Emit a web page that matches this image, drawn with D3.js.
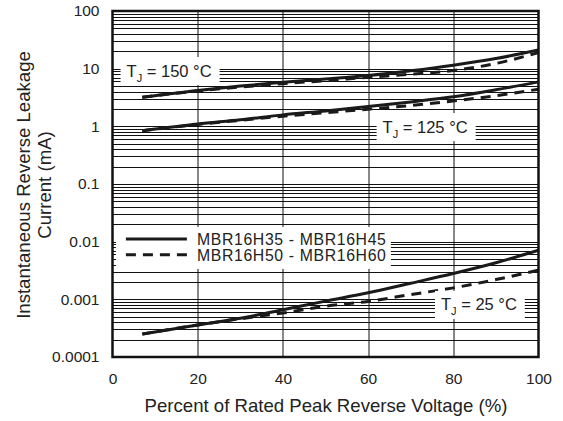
<!DOCTYPE html>
<html>
<head>
<meta charset="utf-8">
<script src="https://cdn.jsdelivr.net/npm/d3@7"></script>
<style>
  body { margin: 0; background: #fff; }
  svg { display: block; }
  text { font-family: "Liberation Sans", Arial, Helvetica, sans-serif; fill: #222; }
</style>
</head>
<body>
<svg width="563" height="421"></svg>
<script>
// percent of rated peak reverse voltage
var pct = [7, 20, 30, 40, 50, 60, 70, 80, 90, 100];

// leakage current (mA)
var tj150Solid  = [3.2, 4.2, 5.0, 5.8, 6.6, 7.6, 9.2, 11.5, 15.0, 21.0];
var tj150Dashed = [3.2, 4.1, 4.8, 5.5, 6.2, 7.1, 8.0, 9.3, 12.3, 19.0];
var tj125Solid  = [0.84, 1.1, 1.3, 1.58, 1.85, 2.2, 2.65, 3.25, 4.3, 5.9];
var tj125Dashed = [0.84, 1.08, 1.27, 1.5, 1.72, 1.98, 2.3, 2.75, 3.4, 4.4];
var tj25Solid   = [0.00025, 0.00036, 0.00047, 0.00066, 0.00093, 0.0013, 0.0019, 0.0028, 0.0043, 0.0071];
var tj25Dashed  = [0.00025, 0.00036, 0.00046, 0.00058, 0.00076, 0.00092, 0.00121, 0.00158, 0.0022, 0.0032];

var xTicks = [0, 20, 40, 60, 80, 100];
var yTicks = [0.0001, 0.001, 0.01, 0.1, 1, 10, 100];
var yTickLabels = ["0.0001", "0.001", "0.01", "0.1", "1", "10", "100"];

var legendNames = ["MBR16H35 - MBR16H45", "MBR16H50 - MBR16H60"];
var tempLabels = [
  {t: "150", x: 1.9, y: 9.1},
  {t: "125", x: 62,  y: 0.97},
  {t: "25",  x: 75.7, y: 0.0008}
];

var svg = d3.select("svg"),
    margin = {top: 11, right: 24.5, bottom: 64, left: 112.5},
    width = +svg.attr("width") - margin.left - margin.right,
    height = +svg.attr("height") - margin.top - margin.bottom,
    g = svg.append("g").attr("transform", "translate(" + margin.left + "," + margin.top + ")");

var x = d3.scaleLinear().domain([0, 100]).range([0, width]);
var y = d3.scaleLog().domain([0.0001, 100]).range([height, 0]);

// grid
g.append("g")
  .selectAll("line.h")
  .data(y.ticks())
  .enter().append("line")
    .attr("x1", 0).attr("x2", width)
    .attr("y1", function(d) { return Math.round(y(d)) + 0.5; })
    .attr("y2", function(d) { return Math.round(y(d)) + 0.5; })
    .attr("stroke", "#111").attr("stroke-width", 1);

g.append("g")
  .selectAll("line.v")
  .data(xTicks.slice(1, -1))
  .enter().append("line")
    .attr("y1", 0).attr("y2", height)
    .attr("x1", function(d) { return Math.round(x(d)) + 0.5; })
    .attr("x2", function(d) { return Math.round(x(d)) + 0.5; })
    .attr("stroke", "#111").attr("stroke-width", 1);

// curves
var line = d3.line()
  .x(function(d) { return x(d[0]); })
  .y(function(d) { return y(d[1]); })
  .curve(d3.curveMonotoneX);

var series = [
  {v: tj150Solid, dash: null}, {v: tj150Dashed, dash: "10,7"},
  {v: tj125Solid, dash: null}, {v: tj125Dashed, dash: "10,7"},
  {v: tj25Solid, dash: null},  {v: tj25Dashed, dash: "10,7"}
];

svg.append("clipPath").attr("id", "clip")
  .append("rect").attr("width", width).attr("height", height);

g.append("g").attr("clip-path", "url(#clip)")
  .selectAll("path")
  .data(series)
  .enter().append("path")
    .attr("fill", "none")
    .attr("stroke", "#1a1a1a")
    .attr("stroke-width", 3)
    .attr("stroke-dasharray", function(d) { return d.dash; })
    .attr("d", function(d) { return line(pct.map(function(p, i) { return [p, d.v[i]]; })); });

// temperature labels
tempLabels.forEach(function(l) {
  var lg = g.append("g").attr("transform", "translate(" + x(l.x) + "," + y(l.y) + ")");
  var txt = lg.append("text").attr("font-size", 16.5).attr("x", 6).attr("y", 5.5);
  txt.append("tspan").text("T");
  txt.append("tspan").attr("font-size", 11).attr("dy", 5).text("J");
  txt.append("tspan").attr("dy", -5).text(" = " + l.t + " \u00b0C");
  var w = txt.node().getComputedTextLength();
  lg.insert("rect", "text")
    .attr("x", 0).attr("y", -14).attr("width", w + 14).attr("height", 28)
    .attr("fill", "#fff");
});

// legend
var leg = g.append("g").attr("transform", "translate(" + x(0.8) + "," + y(0.018) + ")");
leg.append("rect").attr("width", 275).attr("height", 42).attr("fill", "#fff");
legendNames.forEach(function(name, i) {
  var yy = 12 + i * 15.8;
  leg.append("line")
    .attr("x1", 10).attr("x2", 71).attr("y1", yy).attr("y2", yy)
    .attr("stroke", "#1a1a1a").attr("stroke-width", 3)
    .attr("stroke-dasharray", i ? "10,7" : null);
  leg.append("text").attr("x", 81).attr("y", yy + 6)
    .attr("font-size", 15.8).attr("textLength", 189)
    .text(name);
});

// frame
g.append("rect").attr("width", width).attr("height", height)
  .attr("fill", "none").attr("stroke", "#111").attr("stroke-width", 2.5);

// axes
var xAxis = d3.axisBottom(x).tickValues(xTicks).tickSize(0).tickPadding(15.6)
  .tickFormat(d3.format("d"));
var yAxis = d3.axisLeft(y).tickValues(yTicks).tickSize(0).tickPadding(13)
  .tickFormat(function(d, i) { return yTickLabels[i]; });

g.append("g").attr("transform", "translate(0," + height + ")").call(xAxis)
  .call(function(a) { a.select(".domain").remove(); })
  .selectAll("text").attr("font-size", 15.5).attr("fill", "#222")
  .attr("font-family", "Liberation Sans, Arial, sans-serif");

g.append("g").call(yAxis)
  .call(function(a) { a.select(".domain").remove(); })
  .selectAll("text").attr("font-size", 15.5).attr("fill", "#222")
  .attr("font-family", "Liberation Sans, Arial, sans-serif");

// titles
svg.append("text")
  .attr("x", margin.left + width / 2 + 0.5).attr("y", 411.5)
  .attr("text-anchor", "middle").attr("font-size", 18.6)
  .text("Percent of Rated Peak Reverse Voltage (%)");

var yt = svg.append("text")
  .attr("transform", "translate(30,185) rotate(-90)")
  .attr("text-anchor", "middle").attr("font-size", 18.6);
yt.append("tspan").attr("x", 0).attr("y", 0).text("Instantaneous Reverse Leakage");
yt.append("tspan").attr("x", 0).attr("y", 21).text("Current (mA)");
</script>
</body>
</html>
